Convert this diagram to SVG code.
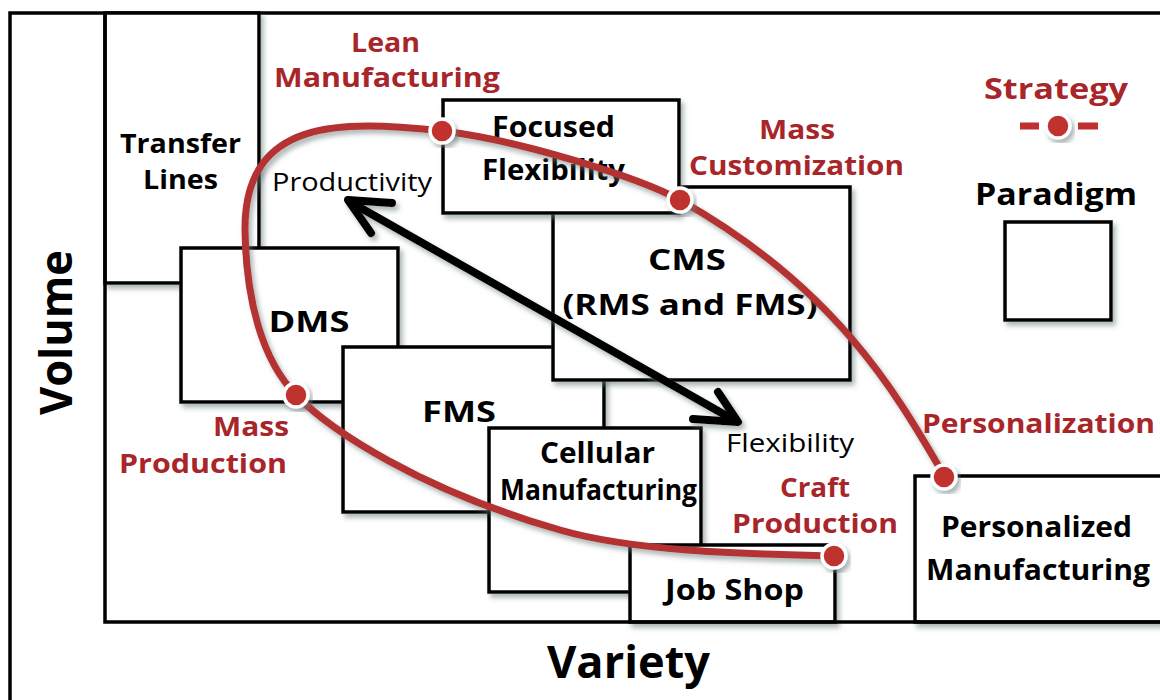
<svg xmlns="http://www.w3.org/2000/svg" width="1160" height="700" viewBox="0 0 1160 700">
<defs>
<filter id="sh" x="-10%" y="-10%" width="130%" height="130%">
<feDropShadow dx="3" dy="4" stdDeviation="2.5" flood-color="#6a7a7a" flood-opacity="0.55"/>
</filter>
<style>
text{font-family:"Open Sans",Lato,"Liberation Sans",sans-serif;text-anchor:middle}
.t{font-weight:bold;font-size:29px;fill:#000}
.r{font-weight:bold;font-size:27px;fill:#a8262a}
.n{font-size:25px;fill:#000}
.ax{font-weight:bold;font-size:45px;fill:#000}
.box{fill:#fff;stroke:#000;stroke-width:3.5;filter:url(#sh)}
.dot{fill:#c0302f;stroke:#fff;stroke-width:3.5;filter:url(#sh)}
.curve{fill:none;stroke:#b53030;stroke-width:7;stroke-linecap:round;filter:url(#sh)}
.arr{fill:none;stroke:#000;stroke-width:8;stroke-linecap:round;stroke-linejoin:round;filter:url(#sh)}
.frame{fill:none;stroke:#000;stroke-width:3.5}
</style>
</defs>
<rect width="1160" height="700" fill="#fff"/>
<g id="frame">
<polyline class="frame" points="10,702 10,13 1162,13"/>
</g>
<g id="transfer-lines">
<rect class="box" x="105" y="13" width="154" height="270"/>
<text class="t" x="180.5" y="153" style="font-size:27px" textLength="121" lengthAdjust="spacingAndGlyphs">Transfer</text>
<text class="t" x="180.5" y="189" style="font-size:27px" textLength="75" lengthAdjust="spacingAndGlyphs">Lines</text>
</g>
<g id="dms">
<rect class="box" x="181" y="248" width="217" height="154"/>
<text class="t" x="309" y="332" textLength="81" lengthAdjust="spacingAndGlyphs">DMS</text>
</g>
<g id="fms">
<rect class="box" x="343" y="347" width="261" height="165"/>
<text class="t" x="459" y="422" textLength="74" lengthAdjust="spacingAndGlyphs">FMS</text>
</g>
<g id="cms">
<rect class="box" x="553" y="187" width="297" height="193"/>
<text class="t" x="687" y="270" textLength="78" lengthAdjust="spacingAndGlyphs">CMS</text>
<text class="t" x="690" y="315" textLength="255" lengthAdjust="spacingAndGlyphs">(RMS and FMS)</text>
</g>
<g id="focused-flexibility">
<rect class="box" x="443" y="100" width="236" height="113"/>
<text class="t" x="553.5" y="137" textLength="123" lengthAdjust="spacingAndGlyphs">Focused</text>
<text class="t" x="553.5" y="180" textLength="143" lengthAdjust="spacingAndGlyphs">Flexibility</text>
</g>
<g id="cellular-manufacturing">
<rect class="box" x="489" y="428" width="212" height="164"/>
<text class="t" x="597.5" y="463" textLength="115" lengthAdjust="spacingAndGlyphs">Cellular</text>
<text class="t" x="598.5" y="500" textLength="197" lengthAdjust="spacingAndGlyphs">Manufacturing</text>
</g>
<g id="job-shop">
<rect class="box" x="630" y="545" width="205" height="77"/>
<text class="t" x="734.5" y="600" textLength="139" lengthAdjust="spacingAndGlyphs">Job Shop</text>
</g>
<g id="personalized-manufacturing">
<rect class="box" x="915" y="476" width="250" height="146"/>
<text class="t" x="1036.5" y="537" textLength="191" lengthAdjust="spacingAndGlyphs">Personalized</text>
<text class="t" x="1038" y="580" textLength="224" lengthAdjust="spacingAndGlyphs">Manufacturing</text>
</g>
<g id="axes">
<polyline class="frame" points="105,13 105,622 1162,622"/>
<text class="ax" x="72" y="332.5" transform="rotate(-90 72 332.5)" textLength="165" lengthAdjust="spacingAndGlyphs">Volume</text>
<text class="ax" x="628.5" y="678" textLength="163" lengthAdjust="spacingAndGlyphs">Variety</text>
</g>
<g id="connectors">
<path class="curve" d="M 945 477 C 900 400, 840 290, 680 200 C 640 178, 520 140, 442 131 C 340 120, 244 118, 245 230 C 246 300, 262 360, 296 395 C 330 430, 420 490, 560 530 C 640 553, 760 554, 835 556"/>
<g class="arr">
<line x1="352" y1="203" x2="734" y2="420"/>
<polyline points="392,203 348,200 371,233"/>
<polyline points="718,392 738,422 693,419"/>
</g>
</g>
<g id="lean-manufacturing">
<circle class="dot" cx="442" cy="131" r="12"/>
<text class="r" x="385.5" y="52" textLength="69" lengthAdjust="spacingAndGlyphs">Lean</text>
<text class="r" x="387" y="87" textLength="226" lengthAdjust="spacingAndGlyphs">Manufacturing</text>
</g>
<g id="mass-customization">
<circle class="dot" cx="680" cy="200" r="12"/>
<text class="r" x="797" y="139" textLength="76" lengthAdjust="spacingAndGlyphs">Mass</text>
<text class="r" x="796.5" y="175" textLength="215" lengthAdjust="spacingAndGlyphs">Customization</text>
</g>
<g id="personalization">
<circle class="dot" cx="944" cy="477" r="12"/>
<text class="r" x="1038.5" y="433" textLength="233" lengthAdjust="spacingAndGlyphs">Personalization</text>
</g>
<g id="craft-production">
<circle class="dot" cx="834" cy="556" r="12"/>
<text class="r" x="815" y="497" textLength="70" lengthAdjust="spacingAndGlyphs">Craft</text>
<text class="r" x="815" y="533" textLength="166" lengthAdjust="spacingAndGlyphs">Production</text>
</g>
<g id="mass-production">
<circle class="dot" cx="296" cy="395" r="12"/>
<text class="r" x="251" y="436" textLength="76" lengthAdjust="spacingAndGlyphs">Mass</text>
<text class="r" x="203" y="473" textLength="168" lengthAdjust="spacingAndGlyphs">Production</text>
</g>
<g id="productivity">
<text class="n" x="352" y="191" textLength="160" lengthAdjust="spacingAndGlyphs">Productivity</text>
</g>
<g id="flexibility">
<text class="n" x="790" y="452" textLength="128" lengthAdjust="spacingAndGlyphs">Flexibility</text>
</g>
<g id="legend">
<text class="r" x="1056" y="99" style="font-size:29px" textLength="144" lengthAdjust="spacingAndGlyphs">Strategy</text>
<line x1="1020" y1="126" x2="1098" y2="126" stroke="#c0302f" stroke-width="7"/>
<line x1="1039" y1="126" x2="1078" y2="126" stroke="#fff" stroke-width="9"/>
<circle class="dot" cx="1058" cy="126" r="12"/>
<text class="t" x="1056" y="205" style="font-size:30px" textLength="162" lengthAdjust="spacingAndGlyphs">Paradigm</text>
<rect class="box" x="1005" y="222" width="106" height="98"/>
</g>
</svg>
